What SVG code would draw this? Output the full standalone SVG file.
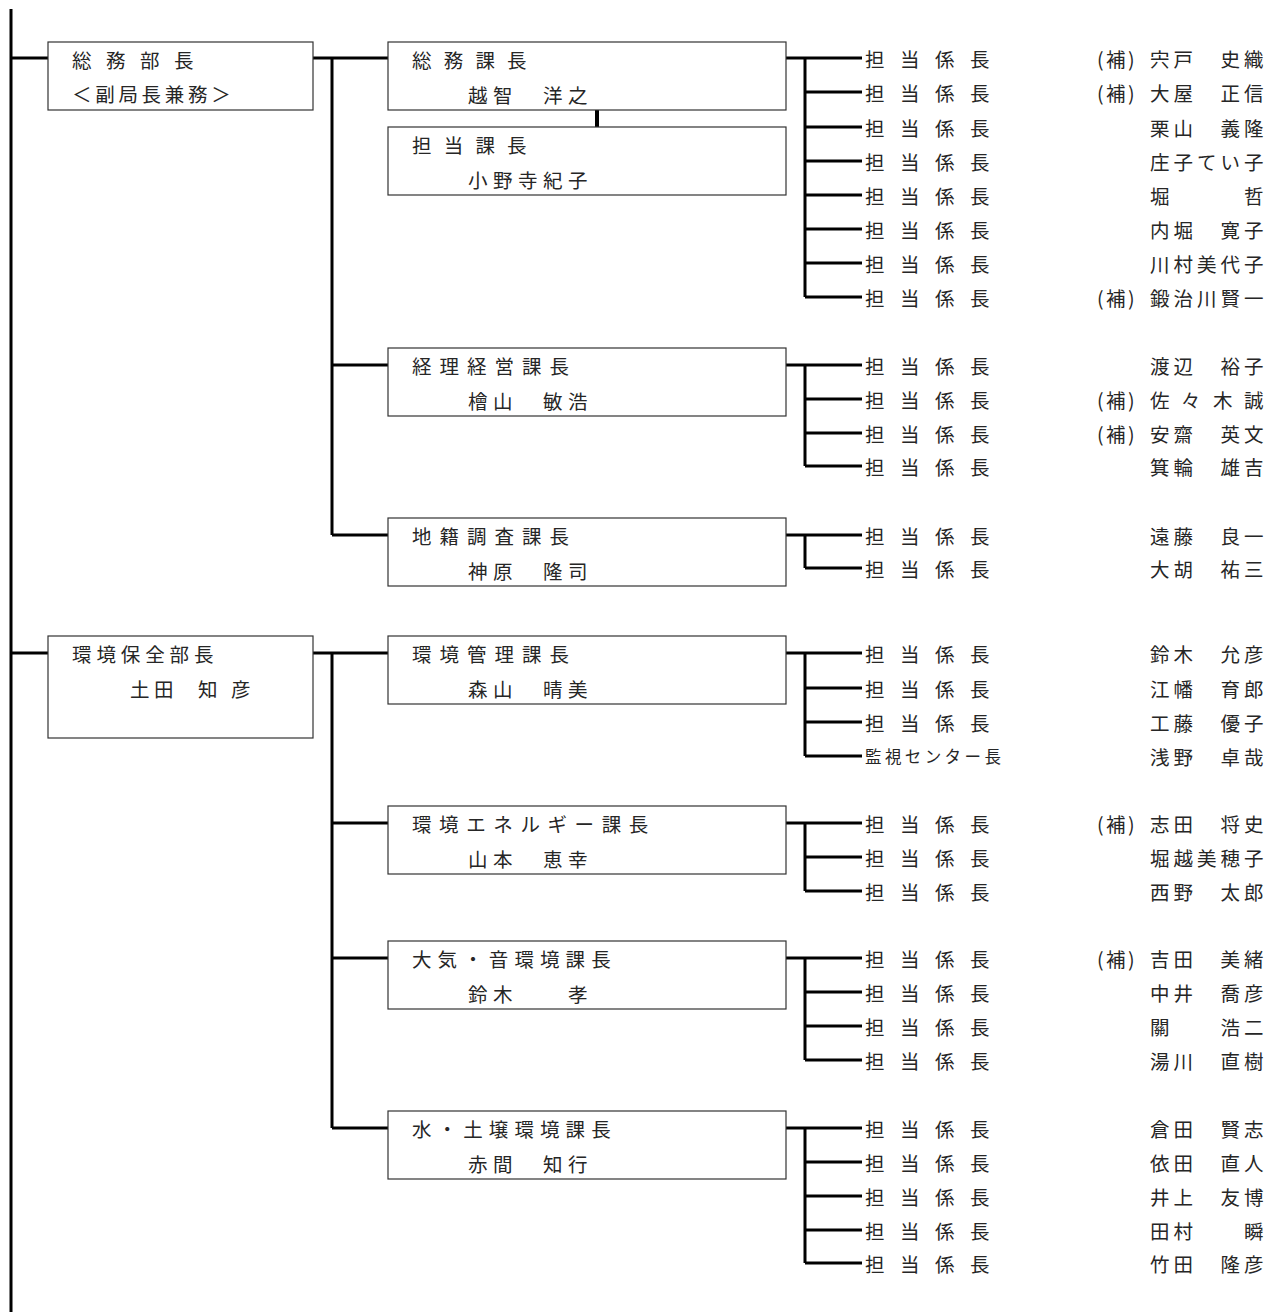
<svg xmlns="http://www.w3.org/2000/svg" width="1275" height="1312" viewBox="0 0 1275 1312">
<style>
text{font-family:"Noto Sans CJK JP","Noto Sans",sans-serif;font-size:19.5px;fill:#262626;dominant-baseline:central}
.box{fill:#fff;stroke:#333;stroke-width:1.2}
.ln{stroke:#000;stroke-width:3;fill:none}
.t4{letter-spacing:12.2px}
.t6{letter-spacing:8px}
.t9{letter-spacing:7.6px}
.t8{letter-spacing:6.1px}
.bn{letter-spacing:5.5px}
.role{letter-spacing:15.5px}
.nm{letter-spacing:4px}
.ho{letter-spacing:2.5px}
.sm{font-size:16.5px;letter-spacing:3.4px}
</style>
<rect width="1275" height="1312" fill="#fff"/>
<g id="connectors" class="ln">
<path d="M11 9V1312M11 58H48M11 653H48"/>
<path d="M313 58H388M332 58V535M332 365H388M332 535H388"/>
<path d="M313 653H388M332 653V1128M332 823H388M332 958H388M332 1128H388"/>
<path d="M597 110V127" style="stroke-width:4"/>
<path d="M786 58H862M805 58V297M805 92H862M805 127H862M805 161H862M805 195H862M805 229H862M805 263H862M805 297H862"/>
<path d="M786 365H862M805 365V466M805 399H862M805 433H862M805 466H862"/>
<path d="M786 535H862M805 535V568M805 568H862"/>
<path d="M786 653H862M805 653V756M805 688H862M805 722H862M805 756H862"/>
<path d="M786 823H862M805 823V891M805 857H862M805 891H862"/>
<path d="M786 958H862M805 958V1060M805 992H862M805 1026H862M805 1060H862"/>
<path d="M786 1128H862M805 1128V1263M805 1162H862M805 1196H862M805 1230H862M805 1263H862"/>
</g>
<g id="n-somubucho"><rect class="box" x="48" y="42" width="265" height="68"/><text x="72" y="59" style="letter-spacing:14.5px">総務部長</text><text x="72" y="93" style="letter-spacing:3.7px">＜副局長兼務＞</text></g>
<g id="n-kankyobucho"><rect class="box" x="48" y="636" width="265" height="102"/><text x="72" y="653" style="letter-spacing:4.9px">環境保全部長</text><text x="130 154 176 198 231" y="688">土田　知彦</text></g>
<g id="n-somuka"><rect class="box" x="388" y="42" width="398" height="68"/><text class="t4" x="412" y="59">総務課長</text><text class="bn" x="468" y="94">越智　洋之</text></g>
<g id="n-tantoka"><rect class="box" x="388" y="127" width="398" height="68"/><text class="t4" x="412" y="144">担当課長</text><text class="bn" x="468" y="179">小野寺紀子</text></g>
<g id="n-keiri"><rect class="box" x="388" y="348" width="398" height="68"/><text class="t6" x="412" y="365">経理経営課長</text><text class="bn" x="468" y="400">檜山　敏浩</text></g>
<g id="n-chiseki"><rect class="box" x="388" y="518" width="398" height="68"/><text class="t6" x="412" y="535">地籍調査課長</text><text class="bn" x="468" y="570">神原　隆司</text></g>
<g id="n-kankyokanri"><rect class="box" x="388" y="636" width="398" height="68"/><text class="t6" x="412" y="653">環境管理課長</text><text class="bn" x="468" y="688">森山　晴美</text></g>
<g id="n-energy"><rect class="box" x="388" y="806" width="398" height="68"/><text class="t9" x="412" y="823">環境エネルギー課長</text><text class="bn" x="468" y="858">山本　恵幸</text></g>
<g id="n-taiki"><rect class="box" x="388" y="941" width="398" height="68"/><text class="t8" x="412" y="958">大気・音環境課長</text><text class="bn" x="468" y="993">鈴木　　孝</text></g>
<g id="n-mizu"><rect class="box" x="388" y="1111" width="398" height="68"/><text class="t8" x="412" y="1128">水・土壌環境課長</text><text class="bn" x="468" y="1163">赤間　知行</text></g>
<g id="s1"><text class="role" x="865" y="58">担当係長</text><text class="ho" x="1097" y="58">(補)</text><text class="nm" x="1150" y="58">宍戸　史織</text></g>
<g id="s2"><text class="role" x="865" y="92">担当係長</text><text class="ho" x="1097" y="92">(補)</text><text class="nm" x="1150" y="92">大屋　正信</text></g>
<g id="s3"><text class="role" x="865" y="127">担当係長</text><text class="nm" x="1150" y="127">栗山　義隆</text></g>
<g id="s4"><text class="role" x="865" y="161">担当係長</text><text class="nm" x="1150" y="161">庄子てい子</text></g>
<g id="s5"><text class="role" x="865" y="195">担当係長</text><text class="nm" x="1150" y="195">堀　　　哲</text></g>
<g id="s6"><text class="role" x="865" y="229">担当係長</text><text class="nm" x="1150" y="229">内堀　寛子</text></g>
<g id="s7"><text class="role" x="865" y="263">担当係長</text><text class="nm" x="1150" y="263">川村美代子</text></g>
<g id="s8"><text class="role" x="865" y="297">担当係長</text><text class="ho" x="1097" y="297">(補)</text><text class="nm" x="1150" y="297">鍛治川賢一</text></g>
<g id="s9"><text class="role" x="865" y="365">担当係長</text><text class="nm" x="1150" y="365">渡辺　裕子</text></g>
<g id="s10"><text class="role" x="865" y="399">担当係長</text><text class="ho" x="1097" y="399">(補)</text><text x="1150 1181 1213 1244" y="399">佐々木誠</text></g>
<g id="s11"><text class="role" x="865" y="433">担当係長</text><text class="ho" x="1097" y="433">(補)</text><text class="nm" x="1150" y="433">安齋　英文</text></g>
<g id="s12"><text class="role" x="865" y="466">担当係長</text><text class="nm" x="1150" y="466">箕輪　雄吉</text></g>
<g id="s13"><text class="role" x="865" y="535">担当係長</text><text class="nm" x="1150" y="535">遠藤　良一</text></g>
<g id="s14"><text class="role" x="865" y="568">担当係長</text><text class="nm" x="1150" y="568">大胡　祐三</text></g>
<g id="s15"><text class="role" x="865" y="653">担当係長</text><text class="nm" x="1150" y="653">鈴木　允彦</text></g>
<g id="s16"><text class="role" x="865" y="688">担当係長</text><text class="nm" x="1150" y="688">江幡　育郎</text></g>
<g id="s17"><text class="role" x="865" y="722">担当係長</text><text class="nm" x="1150" y="722">工藤　優子</text></g>
<g id="s18"><text class="sm" x="865" y="756">監視センター長</text><text class="nm" x="1150" y="756">浅野　卓哉</text></g>
<g id="s19"><text class="role" x="865" y="823">担当係長</text><text class="ho" x="1097" y="823">(補)</text><text class="nm" x="1150" y="823">志田　将史</text></g>
<g id="s20"><text class="role" x="865" y="857">担当係長</text><text class="nm" x="1150" y="857">堀越美穂子</text></g>
<g id="s21"><text class="role" x="865" y="891">担当係長</text><text class="nm" x="1150" y="891">西野　太郎</text></g>
<g id="s22"><text class="role" x="865" y="958">担当係長</text><text class="ho" x="1097" y="958">(補)</text><text class="nm" x="1150" y="958">吉田　美緒</text></g>
<g id="s23"><text class="role" x="865" y="992">担当係長</text><text class="nm" x="1150" y="992">中井　喬彦</text></g>
<g id="s24"><text class="role" x="865" y="1026">担当係長</text><text class="nm" x="1150" y="1026">關　　浩二</text></g>
<g id="s25"><text class="role" x="865" y="1060">担当係長</text><text class="nm" x="1150" y="1060">湯川　直樹</text></g>
<g id="s26"><text class="role" x="865" y="1128">担当係長</text><text class="nm" x="1150" y="1128">倉田　賢志</text></g>
<g id="s27"><text class="role" x="865" y="1162">担当係長</text><text class="nm" x="1150" y="1162">依田　直人</text></g>
<g id="s28"><text class="role" x="865" y="1196">担当係長</text><text class="nm" x="1150" y="1196">井上　友博</text></g>
<g id="s29"><text class="role" x="865" y="1230">担当係長</text><text class="nm" x="1150" y="1230">田村　　瞬</text></g>
<g id="s30"><text class="role" x="865" y="1263">担当係長</text><text class="nm" x="1150" y="1263">竹田　隆彦</text></g>
</svg>
